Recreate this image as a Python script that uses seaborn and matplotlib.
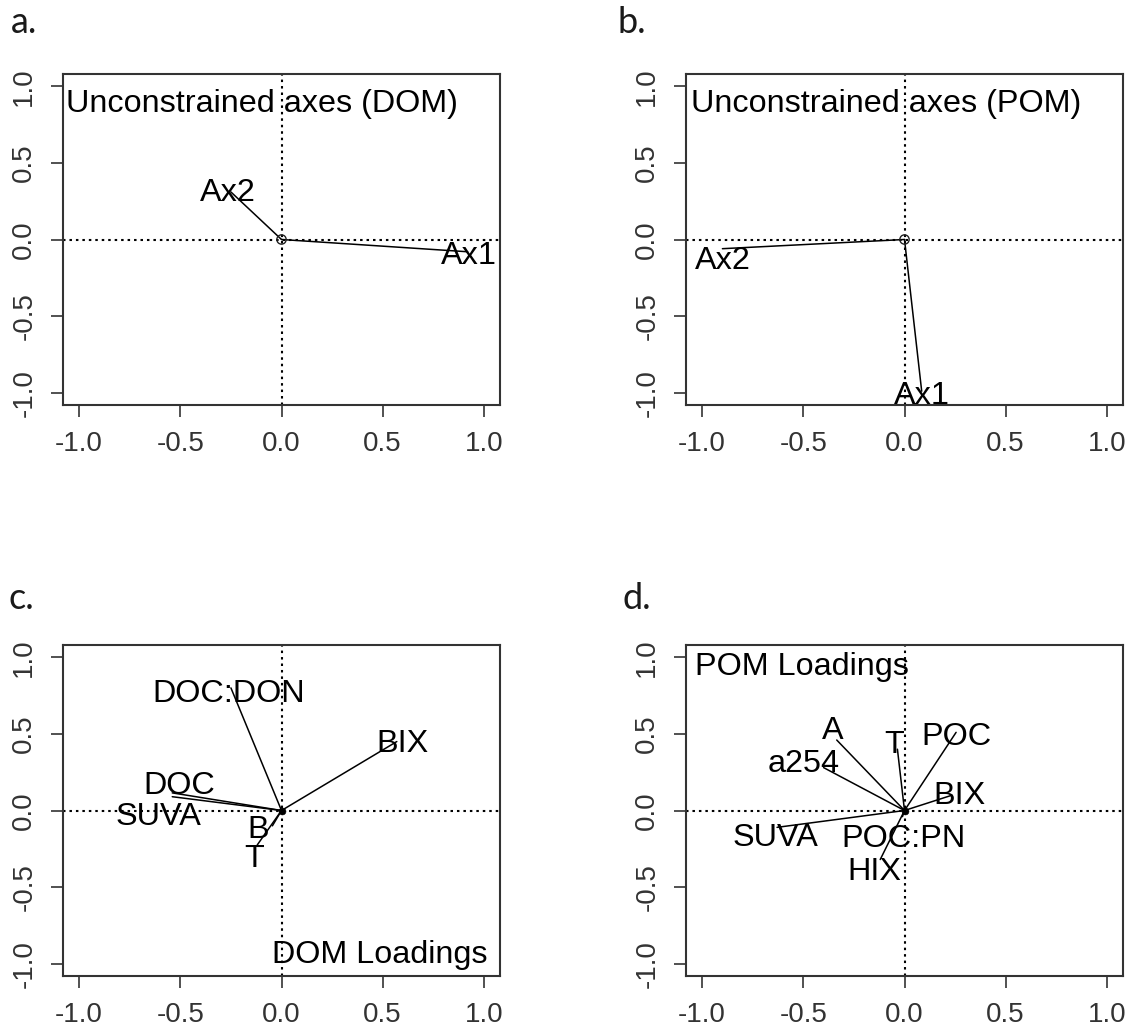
import matplotlib
matplotlib.use("Agg")
import matplotlib.pyplot as plt
import seaborn as sns
import pandas as pd

# ---------------- data ----------------
# a. unconstrained axes projected on the co-inertia plane (DOM table)
dom_axes_names = ["Ax1", "Ax2"]
dom_axes_x = [0.92, -0.25]
dom_axes_y = [-0.08, 0.31]
dom_axes_label_x = [0.925, -0.265]
dom_axes_label_y = [-0.085, 0.325]

# b. unconstrained axes (POM table)
pom_axes_names = ["Ax1", "Ax2"]
pom_axes_x = [0.085, -0.90]
pom_axes_y = [-0.99, -0.06]
pom_axes_label_x = [0.084, -0.90]
pom_axes_label_y = [-1.00, -0.115]

# c. DOM variable loadings
dom_load_names = ["DOC:DON", "BIX", "DOC", "SUVA", "B", "T"]
dom_load_x = [-0.25, 0.57, -0.54, -0.54, -0.045, -0.12]
dom_load_y = [0.80, 0.45, 0.115, 0.09, -0.10, -0.225]
dom_load_label_x = [-0.262, 0.60, -0.505, -0.61, -0.114, -0.134]
dom_load_label_y = [0.785, 0.46, 0.183, -0.02, -0.106, -0.29]

# d. POM variable loadings
pom_load_names = ["A", "a254", "T", "POC", "BIX", "SUVA", "POC:PN", "HIX"]
pom_load_x = [-0.335, -0.40, -0.035, 0.255, 0.235, -0.63, -0.01, -0.12]
pom_load_y = [0.46, 0.28, 0.40, 0.51, 0.10, -0.11, -0.04, -0.32]
pom_load_label_x = [-0.355, -0.50, -0.05, 0.255, 0.27, -0.64, -0.005, -0.15]
pom_load_label_y = [0.54, 0.33, 0.45, 0.505, 0.115, -0.155, -0.16, -0.38]

tick_values = [-1.0, -0.5, 0.0, 0.5, 1.0]
tick_labels = ["-1.0", "-0.5", "0.0", "0.5", "1.0"]

panel_letters = ["a.", "b.", "c.", "d."]
panel_titles = ["Unconstrained axes (DOM)", "Unconstrained axes (POM)",
                "DOM Loadings", "POM Loadings"]

# ---------------- style ----------------
sns.set_theme(style="ticks")
plt.rcParams["font.family"] = ["Liberation Sans", "DejaVu Sans"]

W, H = 1130, 1030
fig = plt.figure(figsize=(W / 100, H / 100), dpi=100)
fig.patch.set_facecolor("white")

LIM = 1.08
LABEL_FS = 23.3
TICK_FS = 20
FRAME = "#333333"


def px_axes(left, top, right, bottom):
    return fig.add_axes([left / W, 1 - bottom / H, (right - left) / W, (bottom - top) / H])


def segments(names, xs, ys):
    rows = []
    for n, x, y in zip(names, xs, ys):
        rows.append({"var": n, "step": 0, "x": 0.0, "y": 0.0})
        rows.append({"var": n, "step": 1, "x": x, "y": y})
    return pd.DataFrame(rows)


def panel(ax, names, xs, ys, lab_x, lab_y, hollow_origin):
    ax.set_facecolor("white")
    ax.axhline(0, color="black", lw=1.5, ls=(0, (1.2, 1.9)), zorder=1)
    ax.axvline(0, color="black", lw=1.5, ls=(0, (1.2, 1.9)), zorder=1)

    df = segments(names, xs, ys)
    sns.lineplot(data=df, x="x", y="y", units="var", estimator=None, sort=False,
                 color="black", lw=1.1, ax=ax, legend=False, zorder=3)

    origin = pd.DataFrame({"x": [0.0], "y": [0.0]})
    if hollow_origin:
        sns.scatterplot(data=origin, x="x", y="y", s=45, facecolor="none",
                        edgecolor="#222222", linewidth=1.0, ax=ax, zorder=4)
    else:
        sns.scatterplot(data=origin, x="x", y="y", s=25, color="black",
                        edgecolor="black", ax=ax, zorder=4)

    cap_half = 0.358 * LABEL_FS
    for n, lx, ly in zip(names, lab_x, lab_y):
        ax.annotate(n, xy=(lx, ly), xytext=(0, -cap_half), textcoords="offset points",
                    ha="center", va="baseline", fontsize=LABEL_FS, color="black",
                    clip_on=True, zorder=5)

    ax.set_xlim(-LIM, LIM)
    ax.set_ylim(-LIM, LIM)
    ax.set_xticks(tick_values, tick_labels)
    ax.set_yticks(tick_values, tick_labels)
    ax.set_xlabel("")
    ax.set_ylabel("")
    ax.tick_params(axis="both", direction="out", length=8.5, width=1.2,
                   color=FRAME, labelcolor="#333333", labelsize=TICK_FS, pad=10)
    for lab in ax.get_yticklabels():
        lab.set_rotation(90)
        lab.set_va("center")
        lab.set_ha("right")
    for sp in ax.spines.values():
        sp.set_visible(True)
        sp.set_color(FRAME)
        sp.set_linewidth(1.5)


ax_a = px_axes(63, 74, 500, 405)
ax_b = px_axes(686, 74, 1123, 405)
ax_c = px_axes(63, 645, 500, 976)
ax_d = px_axes(686, 645, 1123, 976)

panel(ax_a, dom_axes_names, dom_axes_x, dom_axes_y, dom_axes_label_x, dom_axes_label_y, True)
panel(ax_b, pom_axes_names, pom_axes_x, pom_axes_y, pom_axes_label_x, pom_axes_label_y, True)
panel(ax_c, dom_load_names, dom_load_x, dom_load_y, dom_load_label_x, dom_load_label_y, False)
panel(ax_d, pom_load_names, pom_load_x, pom_load_y, pom_load_label_x, pom_load_label_y, False)

# panel titles inside the frames
ax_a.text(0.007, 0.886, panel_titles[0], transform=ax_a.transAxes, ha="left",
          va="baseline", fontsize=LABEL_FS, color="black")
ax_b.text(0.011, 0.886, panel_titles[1], transform=ax_b.transAxes, ha="left",
          va="baseline", fontsize=LABEL_FS, color="black")
ax_c.text(0.971, 0.039, panel_titles[2], transform=ax_c.transAxes, ha="right",
          va="baseline", fontsize=LABEL_FS, color="black")
ax_d.text(0.021, 0.909, panel_titles[3], transform=ax_d.transAxes, ha="left",
          va="baseline", fontsize=LABEL_FS, color="black")

# panel letters
letter_pos = [(11, 33), (618, 33), (9, 609), (623, 609)]
for letter, (px, py) in zip(panel_letters, letter_pos):
    fig.text(px / W, 1 - py / H, letter, ha="left", va="baseline", fontsize=26,
             color="#1a1a1a", family=["Lato", "DejaVu Sans"])

fig.savefig("out.png", dpi=100, facecolor="white")
